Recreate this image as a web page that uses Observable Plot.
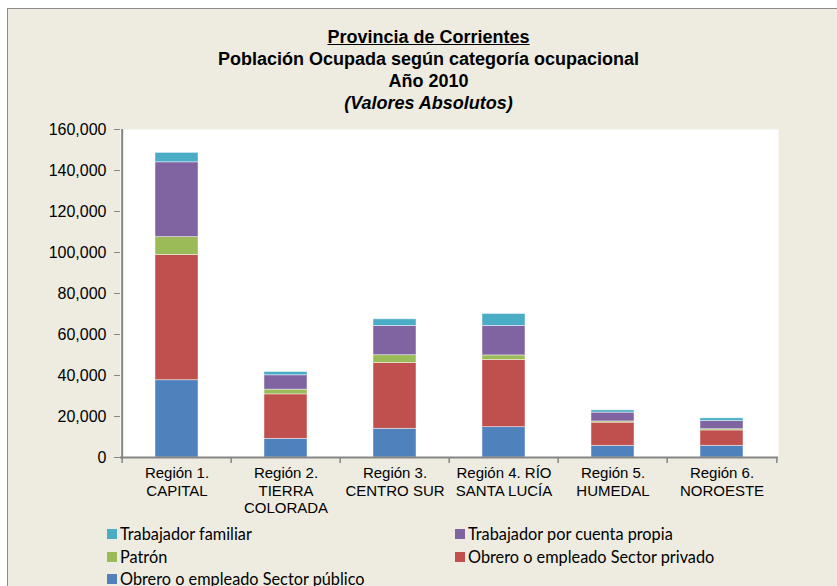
<!DOCTYPE html>
<html>
<head>
<meta charset="utf-8">
<script src="https://cdn.jsdelivr.net/npm/d3@7"></script>
<script src="https://cdn.jsdelivr.net/npm/@observablehq/plot@0.6"></script>
<style>
  html, body { margin: 0; padding: 0; background: #ffffff; width: 837px; height: 586px; overflow: hidden; position: relative; }
  #frame { position: absolute; left: 7px; top: 8px; width: 900px; height: 700px; background: #EEECE1; border: 1px solid #8c8c8c; box-sizing: border-box; }
  #title { position: absolute; left: 7px; top: 26px; width: 843px; text-align: center; font-family: "Liberation Sans", Arial, sans-serif; font-weight: bold; font-size: 18px; line-height: 22px; color: #000; }
  #title .u { text-decoration: underline; }
  #title .i { font-style: italic; }
  #chart { position: absolute; left: 7px; top: 115px; width: 843px; height: 405px; }
  #chart svg { max-width: none !important; display: block; }
  #legend { position: absolute; left: 107px; top: 523px; font-family: Lato, "Open Sans", sans-serif; font-size: 16.3px; color: #000; }
  .item { position: absolute; white-space: nowrap; height: 22px; line-height: 22px; display: flex; align-items: center; }
  .sw { width: 10px; height: 10px; margin-right: 3px; display: inline-block; }
</style>
</head>
<body>
<div id="frame"></div>
<div id="title">
  <div class="u">Provincia de Corrientes</div>
  <div>Población Ocupada según categoría ocupacional</div>
  <div>Año 2010</div>
  <div class="i">(Valores Absolutos)</div>
</div>
<div id="chart"></div>
<div id="legend"></div>
<script>
// ---- Data ----
const regiones = [
  "Región 1.\nCAPITAL",
  "Región 2.\nTIERRA\nCOLORADA",
  "Región 3.\nCENTRO SUR",
  "Región 4. RÍO\nSANTA LUCÍA",
  "Región 5.\nHUMEDAL",
  "Región 6.\nNOROESTE"
];
const series = [
  "Obrero o empleado Sector público",
  "Obrero o empleado Sector privado",
  "Patrón",
  "Trabajador por cuenta propia",
  "Trabajador familiar"
];
const publico      = [37700,  9100, 14000, 14800,  5700, 5700];
const privado      = [61100, 21700, 32100, 32800, 11300, 7500];
const patron       = [ 8700,  2300,  3800,  2200,   600,  600];
const cuentaPropia = [36500,  7000, 14300, 14400,  4300, 4000];
const familiar     = [ 4600,  1600,  3200,  5800,  1100, 1300];
const colores = ["#4F81BD", "#C0504D", "#9BBB59", "#8064A2", "#4BACC6"];
const yTicks = [0, 20000, 40000, 60000, 80000, 100000, 120000, 140000, 160000];
// legend order as in the picture (two columns, row-major)
const legendOrder = [
  "Trabajador familiar", "Trabajador por cuenta propia",
  "Patrón", "Obrero o empleado Sector privado",
  "Obrero o empleado Sector público"
];

// ---- Table ----
const valores = [publico, privado, patron, cuentaPropia, familiar];
const table = [];
series.forEach((s, si) => {
  regiones.forEach((r, ri) => table.push({region: r, serie: s, valor: valores[si][ri]}));
});

// ---- Layout ----
const W = 843, H = 405;
const mL = 113, mR = 72, mT = 14, mB = 63;
const step = (W - mL - mR) / regiones.length;
const axisColor = "#868686";

const chart = Plot.plot({
  width: W,
  height: H,
  marginLeft: mL,
  marginRight: mR,
  marginTop: mT,
  marginBottom: mB,
  style: {background: "transparent", fontFamily: "'Liberation Sans', Arial, sans-serif", color: "#000", overflow: "visible", maxWidth: "none"},
  x: {domain: regiones, paddingInner: 0.604, paddingOuter: 0.302, axis: null, label: null},
  y: {domain: [0, 160000], axis: null, label: null},
  color: {domain: series, range: colores},
  marks: [
    Plot.frame({fill: "white", stroke: null}),
    Plot.barY(table, {
      x: "region", y: "valor", fill: "serie",
      order: series,
      stroke: "white", strokeOpacity: 0.55, strokeWidth: 0.8
    }),
    Plot.axisY({
      ticks: yTicks, tickFormat: d3.format(","), tickSize: 6, tickPadding: 8,
      fontSize: 16, stroke: axisColor, fill: "#000", label: null
    }),
    Plot.axisX({
      ticks: regiones, tickSize: 0, tickPadding: 8, fontSize: 15,
      lineHeight: 1.17, fill: "#000", tickFormat: d => d, label: null
    }),
    Plot.axisX({ticks: regiones, tickSize: 6, text: null, label: null, dx: -step / 2, stroke: axisColor, strokeWidth: 1.5}),
    Plot.axisX({ticks: regiones.slice(-1), tickSize: 6, text: null, label: null, dx: step / 2, stroke: axisColor, strokeWidth: 1.5}),
    Plot.ruleX(regiones.slice(0, 1), {dx: -step / 2, stroke: axisColor, strokeWidth: 2}),
    Plot.ruleY([0], {stroke: axisColor, strokeWidth: 2})
  ]
});
document.getElementById("chart").appendChild(chart);

// ---- Legend ----
const legend = document.getElementById("legend");
legendOrder.forEach((name, i) => {
  const col = i % 2, row = Math.floor(i / 2);
  const el = document.createElement("div");
  el.className = "item";
  el.style.left = (col * 348) + "px";
  el.style.top = (row * 22.5) + "px";
  const sw = document.createElement("span");
  sw.className = "sw";
  sw.style.background = colores[series.indexOf(name)];
  el.appendChild(sw);
  el.appendChild(document.createTextNode(name));
  legend.appendChild(el);
});
</script>
</body>
</html>
